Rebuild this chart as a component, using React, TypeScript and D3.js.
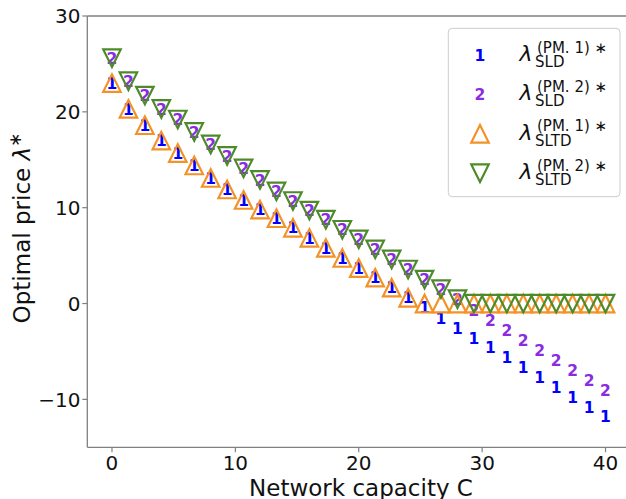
import React from "react";
import * as d3 from "d3";

const capacity = [0, 1.333, 2.667, 4, 5.333, 6.667, 8, 9.333, 10.667, 12, 13.333, 14.667, 16, 17.333, 18.667, 20, 21.333, 22.667, 24, 25.333, 26.667, 28, 29.333, 30.667, 32, 33.333, 34.667, 36, 37.333, 38.667, 40];

const sldPM1 = [23.0, 20.3, 18.6, 17.0, 15.7, 14.4, 13.1, 11.9, 10.8, 9.8, 8.9, 7.9, 6.85, 5.8, 4.75, 3.7, 2.7, 1.65, 0.6, -0.4, -1.5, -2.55, -3.6, -4.6, -5.65, -6.65, -7.7, -8.7, -9.75, -10.8, -11.8];
const sldPM2 = [25.6, 23.2, 21.7, 20.3, 19.2, 17.9, 16.6, 15.4, 14.1, 12.9, 11.7, 10.7, 9.7, 8.75, 7.7, 6.7, 5.65, 4.6, 3.55, 2.5, 1.5, 0.45, -0.75, -1.8, -2.85, -3.85, -4.9, -5.95, -6.95, -8.0, -9.05];
const sltdPM1 = [23.0, 20.3, 18.6, 17.0, 15.7, 14.4, 13.1, 11.9, 10.8, 9.8, 8.9, 7.9, 6.85, 5.8, 4.75, 3.7, 2.7, 1.65, 0.6, 0, 0, 0, 0, 0, 0, 0, 0, 0, 0, 0, 0];
const sltdPM2 = [25.6, 23.2, 21.7, 20.3, 19.2, 17.9, 16.6, 15.4, 14.1, 12.9, 11.7, 10.7, 9.7, 8.75, 7.7, 6.7, 5.65, 4.6, 3.55, 2.5, 1.5, 0.45, 0, 0, 0, 0, 0, 0, 0, 0, 0];

const xTicks = [0, 10, 20, 30, 40];
const yTicks = [-10, 0, 10, 20, 30];
const legendItems = [
  { kind: "text1", sup: "(PM. 1) \u2217", sub: "SLD" },
  { kind: "text2", sup: "(PM. 2) \u2217", sub: "SLD" },
  { kind: "up", sup: "(PM. 1) \u2217", sub: "SLTD" },
  { kind: "down", sup: "(PM. 2) \u2217", sub: "SLTD" },
];

const BLUE = "#0000ff";
const PURPLE = "#8a2be2";
const ORANGE = "#f39226";
const GREEN = "#4e8a2a";
const SPINE = "#808080";
const FONT = "DejaVu Sans";

const W = 626, H = 499;
const left = 87.3, right = 630.2, top = 16, bottom = 447.3;

const x = d3.scaleLinear().domain([-2, 42]).range([left, right]);
const y = d3.scaleLinear().domain([-15, 30]).range([bottom, top]);

const S = 17.5;
const triUp = (cx: number, cy: number) => {
  const p = d3.path();
  p.moveTo(cx, cy - S / 2);
  p.lineTo(cx - S / 2, cy + S / 2);
  p.lineTo(cx + S / 2, cy + S / 2);
  p.closePath();
  return p.toString();
};
const triDown = (cx: number, cy: number) => {
  const p = d3.path();
  p.moveTo(cx, cy + S / 2);
  p.lineTo(cx - S / 2, cy - S / 2);
  p.lineTo(cx + S / 2, cy - S / 2);
  p.closePath();
  return p.toString();
};

const DIGIT = 15.5;
const Digit = ({ cx, cy, label, color }: { cx: number; cy: number; label: string; color: string }) => (
  <text x={cx} y={cy + DIGIT * 0.729 / 2} textAnchor="middle" fontFamily={FONT} fontWeight="bold" fontSize={DIGIT} fill={color}>
    {label}
  </text>
);

export default function App() {
  const rowY = [55, 94.4, 133.8, 173.2];
  return (
    <svg width={W} height={H} style={{ position: "absolute", left: 0, top: 0, background: "#fff" }} fontFamily={FONT}>
      <defs>
        <clipPath id="plot">
          <rect x={left} y={top} width={right - left} height={bottom - top} />
        </clipPath>
      </defs>
      <rect x={0} y={0} width={W} height={H} fill="#fff" />
      <g clipPath="url(#plot)">
        {capacity.map((c, i) => (
          <Digit key={"a" + i} cx={x(c)} cy={y(sldPM1[i])} label="1" color={BLUE} />
        ))}
        {capacity.map((c, i) => (
          <Digit key={"b" + i} cx={x(c)} cy={y(sldPM2[i])} label="2" color={PURPLE} />
        ))}
        {capacity.map((c, i) => (
          <path key={"c" + i} d={triUp(x(c), y(sltdPM1[i]))} fill="none" stroke={ORANGE} strokeWidth={2.2} />
        ))}
        {capacity.map((c, i) => (
          <path key={"d" + i} d={triDown(x(c), y(sltdPM2[i]))} fill="none" stroke={GREEN} strokeWidth={2.2} />
        ))}
      </g>
      {/* spines */}
      <line x1={left} x2={left} y1={top} y2={bottom} stroke={SPINE} strokeWidth={1.3} />
      <line x1={left} x2={right} y1={bottom} y2={bottom} stroke={SPINE} strokeWidth={1.3} />
      <line x1={left} x2={right} y1={top} y2={top} stroke={SPINE} strokeWidth={1.3} />
      <line x1={right} x2={right} y1={top} y2={bottom} stroke={SPINE} strokeWidth={1.3} />
      {/* x ticks */}
      {xTicks.map((t) => (
        <g key={"xt" + t}>
          <line x1={x(t)} x2={x(t)} y1={bottom} y2={bottom + 5} stroke={SPINE} strokeWidth={1.2} />
          <text x={x(t)} y={469.5} textAnchor="middle" fontSize={20} fill="#111">{t}</text>
        </g>
      ))}
      {yTicks.map((t) => (
        <g key={"yt" + t}>
          <line x1={left - 5} x2={left} y1={y(t)} y2={y(t)} stroke={SPINE} strokeWidth={1.2} />
          <text x={80.5} y={y(t) + 7.3} textAnchor="end" fontSize={20} fill="#111">{t < 0 ? "\u2212" + Math.abs(t) : t}</text>
        </g>
      ))}
      <text x={361} y={495.5} textAnchor="middle" fontSize={23} fill="#111">Network capacity C</text>
      <text transform={`translate(29.5,228) rotate(-90)`} textAnchor="middle" fontSize={23} fill="#111">
        Optimal price <tspan fontStyle="italic">λ</tspan><tspan dy={-9} fontSize={17}>∗</tspan>
      </text>
      {/* legend */}
      <rect x={448.3} y={28.3} width={171.7} height={168.4} rx={4} fill="#fff" fillOpacity={0.8} stroke="#cccccc" strokeWidth={1} />
      {legendItems.map((it, i) => {
        const yc = rowY[i];
        return (
          <g key={"lg" + i}>
            {it.kind === "text1" && <Digit cx={480} cy={yc} label="1" color={BLUE} />}
            {it.kind === "text2" && <Digit cx={480} cy={yc} label="2" color={PURPLE} />}
            {it.kind === "up" && <path d={triUp(480, yc)} fill="none" stroke={ORANGE} strokeWidth={2.2} />}
            {it.kind === "down" && <path d={triDown(480, yc)} fill="none" stroke={GREEN} strokeWidth={2.2} />}
            <text x={519.5} y={yc + 6} fontSize={22} fontStyle="italic" fill="#111">λ</text>
            <text x={537} y={yc - 2.5} fontSize={15} fill="#111">{it.sup}</text>
            <text x={535} y={yc + 12} fontSize={15} fill="#111">{it.sub}</text>
          </g>
        );
      })}
    </svg>
  );
}
